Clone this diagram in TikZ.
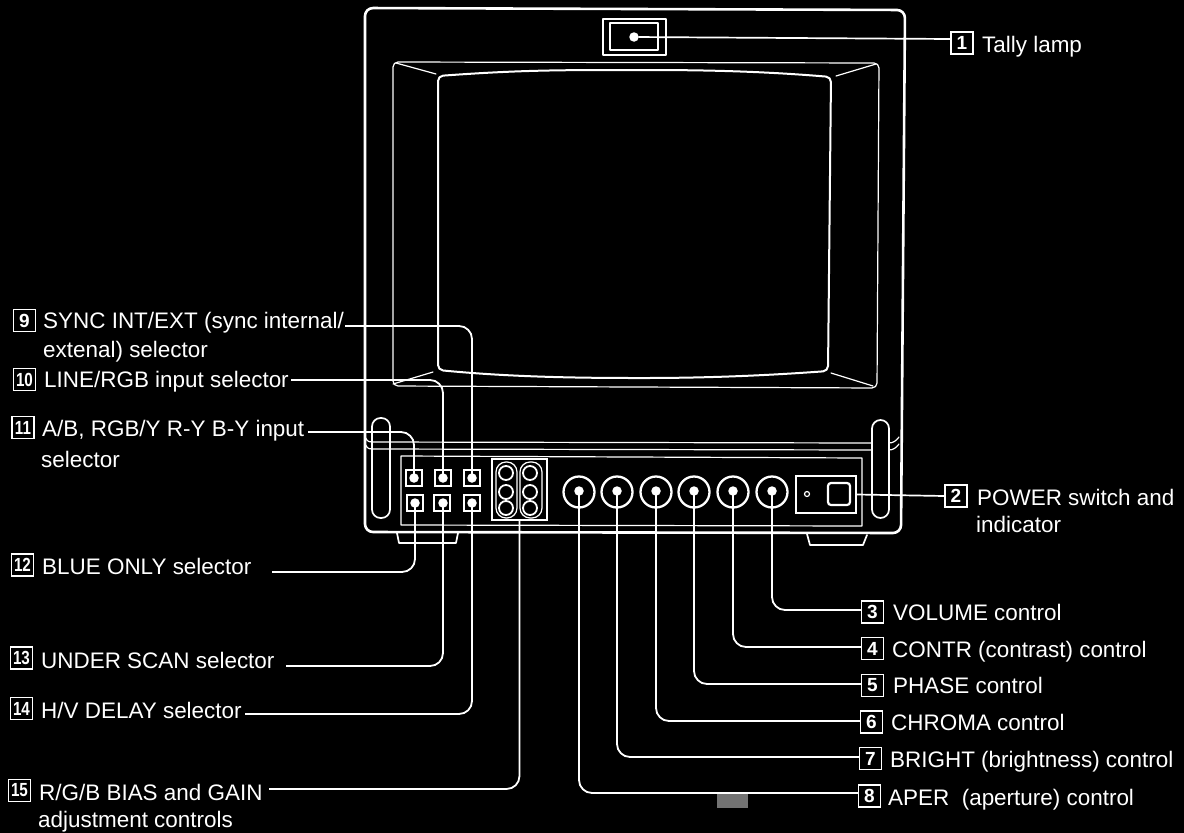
\documentclass[tikz,border=0pt]{standalone}
\usepackage{fontspec}
\setmainfont{Liberation Sans}
\tikzset{
  ln/.style={draw=white,line width=1.7pt,line cap=round,line join=round},
  thin ln/.style={draw=white,line width=1.2pt,line cap=round,line join=round},
  thick ln/.style={draw=white,line width=2.6pt,line cap=round,line join=round},
  conn/.style={draw=white,line width=1.8pt,rounded corners=13pt},
  numbox/.style={draw=white,line width=1.4pt,minimum width=22pt,minimum height=22pt,inner sep=0pt,text=white,font=\fontsize{19}{19}\selectfont\bfseries},
  lbl/.style={anchor=base west,inner sep=0pt,text=white,font=\fontsize{22.45}{26}\selectfont},
  knob/.style={circle,draw=white,line width=2.3pt,minimum size=31pt,inner sep=0pt},
  dotm/.style={circle,fill=white,minimum size=9.5pt,inner sep=0pt},
  btn/.style={draw=white,line width=2.3pt,minimum width=16pt,minimum height=16pt,inner sep=0pt},
  port/.style={circle,draw=white,line width=1.8pt,minimum size=14pt,inner sep=0pt},
  pill/.style={draw=white,line width=1.2pt,rounded corners=10pt}
}
\newcommand{\nn}[1]{\scalebox{.8}[1]{#1}}
\begin{document}
\begin{tikzpicture}[x=1pt,y=-1pt]
\useasboundingbox (0,0) rectangle (1184,833);
\fill[black] (0,0) rectangle (1184,833);
% scan blotch
\fill[black!55!white] (717,794) rectangle (748,808);
% cabinet
\draw[thick ln,rounded corners=8pt] (365,8) -- (905,10) -- (901,533) -- (365,532) -- cycle;
% tally lamp
\draw[thin ln] (603,19) rectangle (666,55);
\draw[ln] (610,23) rectangle (658,50);
% bezel
\draw[thin ln,rounded corners=5pt] (393,62) -- (879,63) -- (877,388) -- (393,386) -- cycle;
\draw[thin ln] (396,63) -- (436,74);
\draw[thin ln] (876,64) -- (836,76);
\draw[thin ln] (393,384) -- (433,372);
\draw[thin ln] (831,373) -- (873,386);
% screen
\draw[thick ln,line width=2pt,rounded corners=5pt] (438,76) .. controls (520,70) and (560,70) .. (640,70) .. controls (700,70) and (760,71) .. (831,77) -- (828,371) .. controls (760,376) and (700,378) .. (640,378) .. controls (560,378) and (500,376) .. (438,370) -- cycle;
% panel lines
\draw[thin ln] (372,442) -- (872,443);
\draw[thin ln] (372,449) -- (872,450);
\draw[thin ln] (365,437) .. controls (366,440) and (368,442) .. (372,442);
\draw[thin ln] (365,444) .. controls (366,447) and (368,449) .. (372,449);
\draw[thin ln] (889,443) .. controls (893,443) and (896,441) .. (899,437);
\draw[thin ln] (889,450) .. controls (893,450) and (896,448) .. (899,444);
\draw[thin ln] (401,456) -- (862,458) -- (862,526) -- (401,525) -- cycle;
% handles
\draw[ln,rounded corners=8.5pt] (372,418) rectangle (390,518);
\draw[ln,rounded corners=8.5pt] (872,420) rectangle (889,518);
% feet
\draw[ln] (397,533) -- (399,543) -- (456,543) -- (458,533);
\draw[ln] (807,534) -- (810,545) -- (863,545) -- (867,535);
% buttons
\node[btn] (s1) at (414,478) {};
\node[btn] (s2) at (443,478) {};
\node[btn] (s3) at (472,478) {};
\node[btn] (s4) at (415,503) {};
\node[btn] (s5) at (442,503) {};
\node[btn] (s6) at (472,503) {};
\node[dotm] (d1) at (414,478) {};
\node[dotm] (d2) at (443,478) {};
\node[dotm] (d3) at (472,478) {};
\node[dotm] (d4) at (415,503) {};
\node[dotm] (d5) at (443,503) {};
\node[dotm] (d6) at (472,503) {};
% bias and gain
\node[draw=white,line width=1.8pt,minimum width=55pt,minimum height=61pt,inner sep=0pt] (bg) at (519.5,489.5) {};
\draw[pill] (496,462) rectangle (517,518);
\draw[pill] (520,462) rectangle (542,518);
\node[port] (p1) at (506,473) {};
\node[port] (p2) at (506,492) {};
\node[port] (p3) at (506,508) {};
\node[port] (p4) at (530,473) {};
\node[port] (p5) at (530,492) {};
\node[port] (p6) at (530,508) {};
% knobs
\foreach \n/\kx in {8/579,7/617,6/656,5/694,4/733,3/772}{
  \node[knob] (k\n) at (\kx,492) {};
  \node[dotm] (kd\n) at (\kx,491) {};
}
% power
\node[draw=white,line width=2.2pt,minimum width=60pt,minimum height=37pt,inner sep=0pt] (pw) at (826,494.5) {};
\draw[draw=white,line width=2.2pt,rounded corners=3pt] (828,483) rectangle (850,505);
\node[circle,draw=white,line width=1.2pt,minimum size=5pt,inner sep=0pt] (ind) at (807,494) {};
\node[dotm] (lamp) at (634,37) {};
% number boxes
\node[numbox] (b1) at (962,43) {1};
\node[numbox] (b2) at (956,496) {2};
\node[numbox] (b3) at (872.5,612) {3};
\node[numbox] (b4) at (872.5,648.5) {4};
\node[numbox] (b5) at (872.5,685.5) {5};
\node[numbox] (b6) at (871.5,722) {6};
\node[numbox] (b7) at (870.5,758.5) {7};
\node[numbox] (b8) at (869.5,796) {8};
\node[numbox] (b9) at (24.5,320.5) {9};
\node[numbox] (b10) at (24.5,379.5) {\nn{10}};
\node[numbox] (b11) at (23,427.5) {\nn{11}};
\node[numbox] (b12) at (22.5,565) {\nn{12}};
\node[numbox] (b13) at (21.5,658) {\nn{13}};
\node[numbox] (b14) at (21.5,708.5) {\nn{14}};
\node[numbox] (b15) at (19.5,790.5) {\nn{15}};
% labels
\node[lbl] (t1) at (982,52) {Tally lamp};
\node[lbl] (t2) at (977,505) {POWER switch and};
\node[lbl] (t2b) at (976,532) {indicator};
\node[lbl] (t3) at (893,620) {VOLUME control};
\node[lbl] (t4) at (892,657) {CONTR (contrast) control};
\node[lbl] (t5) at (893,693) {PHASE control};
\node[lbl] (t6) at (891,730.5) {CHROMA control};
\node[lbl] (t7) at (890,767.5) {BRIGHT (brightness) control};
\node[lbl] (t8) at (888,805) {APER\ \ (aperture) control};
\node[lbl] (t9) at (43,328) {SYNC INT/EXT (sync internal/};
\node[lbl] (t9b) at (43,357) {extenal) selector};
\node[lbl] (t10) at (44,387) {LINE/RGB input selector};
\node[lbl] (t11) at (42,436) {A/B, RGB/Y R-Y B-Y input};
\node[lbl] (t11b) at (41,467) {selector};
\node[lbl] (t12) at (42,574) {BLUE ONLY selector};
\node[lbl] (t13) at (41,668) {UNDER SCAN selector};
\node[lbl] (t14) at (41,718) {H/V DELAY selector};
\node[lbl] (t15) at (39,800) {R/G/B BIAS and GAIN};
\node[lbl] (t15b) at (38,827) {adjustment controls};
% free ends of the left connectors
\coordinate (c9) at (345,326);
\coordinate (c10) at (291,380);
\coordinate (c11) at (308,432);
\coordinate (c12) at (272,572);
\coordinate (c13) at (286,666);
\coordinate (c14) at (245,714);
\coordinate (c15) at (269,789);
% connectors
\draw[ln] (lamp) -- ([yshift=4pt]b1.west);
\draw[ln] (pw.east) -- (b2.west);
\foreach \n/\s in {3/2,4/1.5,5/1.5,6/1,7/1.5,8/3}{
  \draw[conn] (kd\n.center) |- ([yshift=\s pt]b\n.west);
}
\draw[conn] (c9) -| (d3.center);
\draw[conn] (c10) -| (d2.center);
\draw[conn] (c11) -| (d1.center);
\draw[conn] (c12) -| (d4.center);
\draw[conn] (c13) -| (d5.center);
\draw[conn] (c14) -| (d6.center);
\draw[conn] (c15) -| (bg.south);
\end{tikzpicture}
\end{document}
